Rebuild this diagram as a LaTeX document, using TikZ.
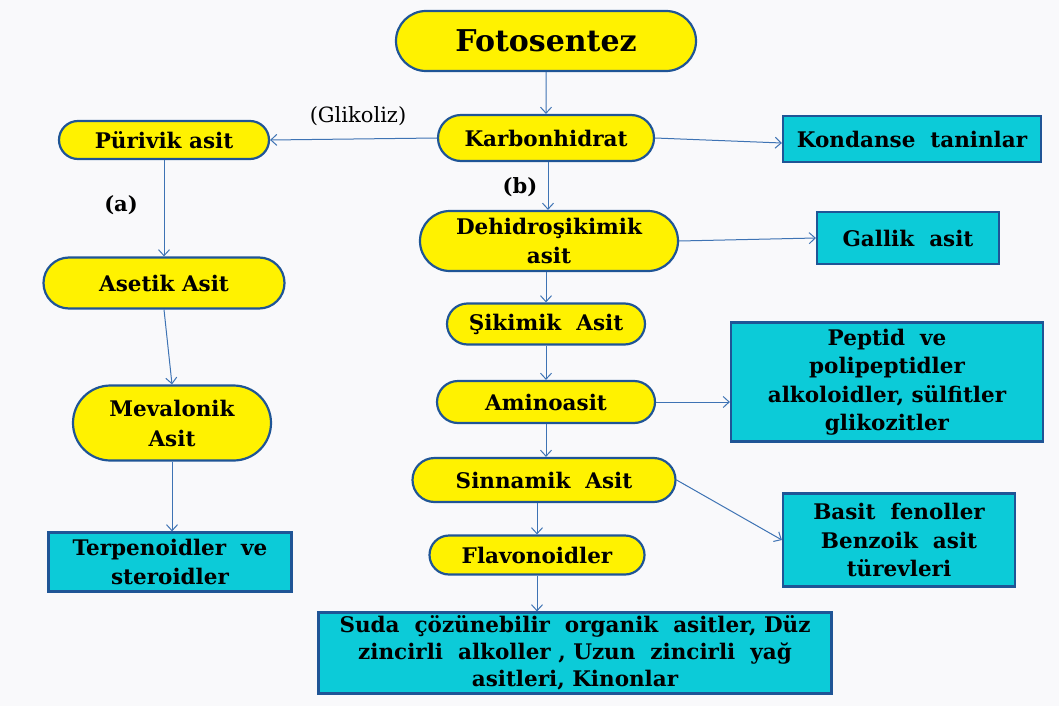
\documentclass[tikz,border=0pt]{standalone}
\usepackage{fontspec}
\setmainfont{DejaVu Serif}
\usetikzlibrary{shapes.misc,arrows.meta}

\definecolor{cerceve}{HTML}{1F5596}
\definecolor{okmavi}{HTML}{3E73B4}
\definecolor{camgobegi}{HTML}{0CCBD8}
\definecolor{zemin}{HTML}{F9F9FB}

\begin{document}
\begin{tikzpicture}[x=1pt,y=-1pt,
    oval/.style={rounded rectangle, draw=cerceve, line width=2.2pt, fill=yellow,
        font=\bfseries\fontsize{21.5}{29}\selectfont, align=center, inner sep=0pt},
    kutu/.style={rectangle, draw=cerceve, line width=2.2pt, fill=camgobegi,
        font=\bfseries\fontsize{21.5}{28.5}\selectfont, align=center, inner sep=0pt},
    ok/.style={draw=okmavi, line width=1pt, -{Straight Barb[length=6pt,width=11pt]}}]

    % Zemin
    \fill[zemin] (0,0) rectangle (1059,706);
    \useasboundingbox (0,0) rectangle (1059,706);

    % Orta sütun
    \node[oval, minimum width=300, minimum height=60, font=\bfseries\fontsize{30}{34}\selectfont] (foto) at (546,41) {Fotosentez};
    \node[oval, minimum width=216, minimum height=46] (karbon) at (546,138) {Karbonhidrat};
    \node[oval, minimum width=258, minimum height=60] (dehidro) at (549,241) {Dehidroşikimik\\asit};
    \node[oval, minimum width=198, minimum height=41] (sikimik) at (546,324) {Şikimik~~Asit};
    \node[oval, minimum width=218, minimum height=42] (amino) at (546,402) {Aminoasit};
    \node[oval, minimum width=263, minimum height=44] (sinnamik) at (544,480) {Sinnamik~~Asit};
    \node[oval, minimum width=215, minimum height=39] (flavon) at (537,555) {Flavonoidler};
    \node[kutu, minimum width=513, minimum height=81, font=\bfseries\fontsize{21.5}{27}\selectfont] (suda) at (575,653)
        {Suda~~çözünebilir~~organik~~asitler, Düz\\zincirli~~alkoller , Uzun~~zincirli~~yağ\\asitleri, Kinonlar};

    % Sol sütun
    \node[oval, minimum width=210, minimum height=38] (purivik) at (164,140) {Pürivik asit};
    \node[oval, minimum width=241, minimum height=51] (asetik) at (164,283) {Asetik Asit};
    \node[oval, minimum width=198, minimum height=75, font=\bfseries\fontsize{21.5}{30}\selectfont] (mevalonik) at (172,423) {Mevalonik\\Asit};
    \node[kutu, minimum width=243, minimum height=59] (terpen) at (170,562) {Terpenoidler~~ve\\steroidler};

    % Sağ sütun
    \node[kutu, minimum width=258, minimum height=46] (kondanse) at (912,139) {Kondanse~~taninlar};
    \node[kutu, minimum width=182, minimum height=52] (gallik) at (908,238) {Gallik~~asit};
    \node[kutu, minimum width=312, minimum height=119] (peptid) at (887,382)
        {Peptid~~ve\\polipeptidler\\alkoloidler, sülfitler\\glikozitler};
    \node[kutu, minimum width=232, minimum height=93] (basit) at (899,540)
        {Basit~~fenoller\\Benzoik~~asit\\türevleri};

    % Yazılar
    \node[font=\fontsize{21}{24}\selectfont] (glikoliz) at (358,116) {(Glikoliz)};
    \node[font=\bfseries\fontsize{21}{24}\selectfont] (etiketa) at (121,205) {(a)};
    \node[font=\bfseries\fontsize{21}{24}\selectfont] (etiketb) at (520,187) {(b)};

    % Oklar
    \draw[ok] (foto) -- (karbon);
    \draw[ok] (karbon.west) -- (purivik.east);
    \draw[ok] (karbon.east) -- ([yshift=-4]kondanse.west);
    \draw[ok] ([xshift=2]karbon.south) -- ([xshift=2]karbon.south |- dehidro.north);
    \draw[ok] (purivik.south) -- (asetik.north);
    \draw[ok] (asetik.south) -- (mevalonik.north);
    \draw[ok] (mevalonik.south) -- (mevalonik.south |- terpen.north);
    \draw[ok] (dehidro.east) -- (gallik.west);
    \draw[ok] (sikimik.north |- dehidro.south) -- (sikimik.north);
    \draw[ok] (sikimik.south) -- (amino.north);
    \draw[ok] (amino.east) -- (amino.east -| peptid.west);
    \draw[ok] (amino.south) -- (amino.south |- sinnamik.north);
    \draw[ok] (sinnamik.east) -- (basit.west);
    \draw[ok] (flavon.north |- sinnamik.south) -- (flavon.north);
    \draw[ok] (flavon.south) -- (flavon.south |- suda.north);
\end{tikzpicture}
\end{document}
